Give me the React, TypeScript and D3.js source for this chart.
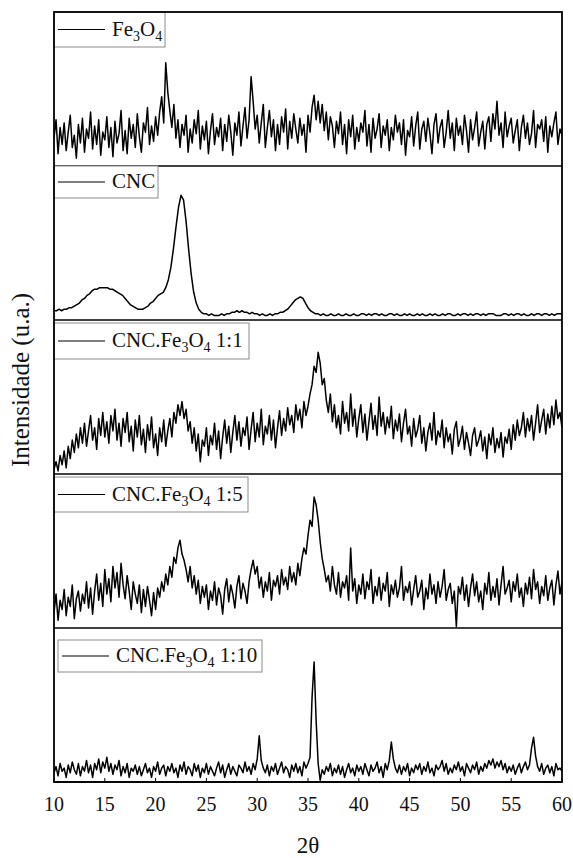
import React from 'react';
import * as d3 from 'd3';

// XRD patterns, 2θ from 10 to 60, intensities (0-100 per panel)
const fe3o4 = [
  18, 30, 8, 25, 14, 28, 10, 22, 33, 12, 20, 5, 27, 15, 31, 9, 24, 18, 35, 11,
  26, 14, 30, 7, 22, 17, 32, 12, 25, 6, 29, 15, 21, 36, 10, 23, 8, 31, 18, 27,
  12, 34, 19, 9, 28, 22, 38, 14, 26, 16, 32, 20, 35, 45, 28, 67, 48, 36, 25, 40,
  18, 30, 12, 27, 20, 33, 9, 24, 15, 30, 21, 36, 11, 26, 17, 29, 8, 23, 34, 14,
  25, 19, 31, 10, 27, 16, 33, 22, 7, 28, 20, 35, 13, 26, 38, 18, 30, 58, 42, 24,
  33, 15, 28, 40, 12, 25, 36, 19, 30, 10, 27, 14, 32, 22, 37, 11, 29, 18, 34, 24,
  15, 31, 20, 27, 9, 33, 22, 38, 46, 30, 42, 28, 40, 23, 35, 17, 32, 26, 12, 29,
  21, 35, 14, 27, 8, 30, 19, 33, 11, 25, 16, 28, 22, 36, 13, 27, 9, 31, 18, 24,
  34, 12, 26, 20, 30, 10, 25, 17, 33, 22, 28, 14, 30, 7, 23, 19, 32, 13, 26, 35,
  11, 24, 29, 16, 31, 21, 8, 27, 34, 15, 25, 30, 12, 22, 36, 18, 28, 10, 31, 20,
  26, 14, 33, 23, 9, 30, 17, 25, 35, 13, 22, 29, 11, 27, 32, 16, 34, 24, 42, 20,
  28, 12, 35, 19, 26, 31, 15, 23, 30, 10, 25, 33, 18, 28, 14, 21, 36, 12, 27, 24,
  30, 16, 32, 9, 26, 19, 28, 35, 14, 24, 20,
];

const cnc = [
  6, 6, 7, 6, 7, 7, 8, 8, 9, 10, 11, 13, 14, 16, 17, 19, 20, 20, 21, 21,
  21, 21, 20, 20, 19, 18, 17, 16, 14, 12, 10, 9, 8, 7, 7, 7, 8, 9, 11, 12,
  14, 16, 17, 18, 21, 26, 34, 46, 60, 73, 81, 78, 64, 46, 30, 18, 11, 7, 5, 4,
  4, 3, 4, 3, 3, 3, 4, 3, 4, 4, 5, 5, 6, 5, 6, 5, 5, 4, 5, 4,
  4, 3, 4, 3, 3, 4, 3, 4, 4, 5, 5, 6, 7, 9, 11, 13, 14, 15, 14, 11,
  8, 6, 5, 4, 4, 3, 4, 3, 3, 4, 3, 3, 4, 3, 3, 4, 3, 3, 4, 3,
  3, 4, 4, 3, 4, 3, 4, 4, 3, 4, 3, 3, 4, 4, 3, 4, 3, 3, 4, 3,
  4, 3, 3, 4, 3, 4, 3, 3, 4, 3, 4, 3, 3, 4, 3, 4, 4, 3, 3, 4,
  3, 4, 4, 3, 4, 3, 4, 4, 3, 4, 3, 4, 4, 4, 3, 3, 3, 4, 4, 3,
  4, 3, 4, 4, 3, 4, 3, 3, 4, 3, 4, 4, 3, 4, 4, 3, 4, 3, 4, 4,
  4,
];

const cncFe11 = [
  3, 8, 2, 12, 6, 15, 4, 18, 10, 22, 14, 26, 17, 30, 20, 33, 18, 28, 38, 22,
  30, 16, 36, 25, 40, 24, 34, 20, 38, 28, 42, 22, 33, 18, 36, 27, 40, 21, 31, 15,
  35, 24, 38, 19, 29, 14, 32, 22, 37, 17, 26, 12, 30, 21, 35, 18, 28, 36, 24, 40,
  33, 45, 38, 47, 36, 42, 28, 34, 20, 30, 15, 26, 8, 22, 18, 30, 12, 25, 19, 33,
  16, 28, 10, 24, 35, 20, 31, 14, 27, 38, 22, 34, 18, 30, 25, 37, 16, 29, 40, 21,
  33, 24, 42, 19, 31, 26, 38, 22, 35, 17, 30, 41, 25, 36, 28, 43, 32, 38, 27, 45,
  35, 42, 30, 47, 38, 44, 52, 58, 70, 66, 79, 72, 58, 62, 48, 40, 52, 34, 45, 30,
  38, 26, 47, 33, 40, 28, 52, 31, 42, 24, 36, 45, 27, 39, 22, 34, 46, 29, 38, 25,
  50, 31, 40, 26, 37, 30, 44, 23, 35, 28, 39, 21, 33, 42, 26, 31, 18, 36, 24, 29,
  38, 20, 30, 15, 27, 33, 22, 40, 19, 28, 24, 35, 17, 30, 21, 26, 13, 29, 34, 18,
  23, 31, 16, 27, 20, 12, 25, 30, 18, 22, 28, 15, 24, 10, 26, 19, 30, 14, 23, 17,
  27, 11, 24, 20, 29, 16, 32, 22, 35, 25, 30, 40, 24, 36, 28, 38, 22, 33, 45, 27,
  35, 42, 26, 39, 30, 44, 32, 48, 36, 40, 30,
];

const cncFe15 = [
  10, 22, 5, 18, 12, 25, 8, 20, 14, 28, 6, 19, 24, 11, 22, 16, 30, 13, 26, 9,
  24, 35, 18, 29, 14, 38, 22, 32, 17, 40, 26, 36, 20, 42, 28, 19, 34, 24, 12, 30,
  22, 16, 28, 10, 25, 14, 27, 18, 8, 23, 12, 26, 20, 30, 24, 35, 28, 40, 33, 46,
  42, 52, 57, 48, 44, 38, 30, 40, 26, 34, 22, 31, 16, 27, 20, 28, 12, 24, 18, 30,
  15, 26, 21, 9, 25, 32, 17, 28, 22, 13, 27, 34, 19, 29, 24, 16, 30, 38, 44, 35,
  40, 26, 33, 20, 30, 24, 36, 18, 31, 27, 34, 22, 38, 28, 33, 25, 40, 30, 36, 28,
  42, 34, 45, 52, 48, 60, 70, 66, 85, 80, 70, 56, 45, 38, 30, 34, 24, 40, 28, 22,
  36, 20, 30, 26, 34, 18, 52, 24, 32, 16, 28, 22, 35, 19, 30, 25, 38, 16, 27, 21,
  33, 18, 29, 24, 36, 14, 28, 22, 31, 20, 26, 40, 18, 27, 23, 30, 15, 25, 34, 20,
  24, 31, 12, 26, 19, 35, 22, 28, 16, 30, 20, 27, 38, 18, 25, 29, 16, 24, 1, 27,
  22, 33, 18, 28, 14, 26, 35, 21, 30, 17, 24, 12, 29, 22, 36, 18, 27, 20, 32, 15,
  28, 40, 22, 26, 31, 17, 30, 24, 35, 20, 26, 14, 29, 22, 33, 19, 38, 25, 30, 16,
  27, 21, 34, 18, 26, 31, 15, 28, 37, 22, 30,
];

const cncFe110 = [
  6, 10, 4, 12, 7, 9, 3, 11, 6, 13, 8, 5, 12, 4, 10, 7, 14, 6, 11, 3,
  12, 8, 15, 6, 13, 9, 16, 7, 12, 5, 11, 8, 14, 4, 10, 6, 12, 3, 9, 7,
  11, 5, 10, 4, 8, 12, 6, 9, 3, 10, 7, 13, 5, 9, 11, 4, 10, 7, 12, 6,
  9, 3, 11, 7, 13, 5, 10, 8, 4, 12, 7, 11, 3, 9, 6, 12, 5, 10, 7, 4,
  9, 13, 6, 11, 3, 8, 12, 5, 10, 7, 4, 11, 9, 6, 13, 7, 10, 5, 12, 8,
  15, 30, 14, 9, 6, 11, 4, 10, 7, 12, 5, 9, 13, 6, 10, 8, 3, 11, 7, 12,
  6, 10, 4, 13, 9, 12, 16, 55, 78, 40, 12, 1, 8, 5, 10, 7, 12, 4, 9, 6,
  11, 5, 10, 3, 8, 12, 6, 9, 4, 11, 7, 10, 5, 12, 8, 4, 11, 7, 9, 13,
  6, 10, 3, 12, 8, 14, 26, 15, 9, 6, 11, 5, 10, 7, 12, 4, 9, 6, 11, 8,
  12, 5, 10, 7, 13, 6, 9, 4, 11, 8, 10, 14, 7, 12, 5, 9, 6, 11, 8, 13,
  7, 10, 4, 12, 9, 6, 11, 8, 13, 5, 10, 7, 12, 9, 14, 11, 15, 9, 13, 10,
  14, 8, 12, 6, 10, 7, 11, 5, 9, 12, 6, 10, 13, 8, 11, 22, 29, 17, 10, 7,
  12, 5, 9, 11, 6, 10, 4, 12, 8, 9, 7,
];

const xTicks = [10, 15, 20, 25, 30, 35, 40, 45, 50, 55, 60];

// legend label pieces: [text, 'n' | 's'] — s is a subscript
const panels = [
  { data: fe3o4, parts: [['Fe', 'n'], ['3', 's'], ['O', 'n'], ['4', 's']], box: { dx: 0, dy: 0, w: 111, h: 35 } },
  { data: cnc, parts: [['CNC', 'n']], box: { dx: 0, dy: 0, w: 104, h: 32 } },
  { data: cncFe11, parts: [['CNC.Fe', 'n'], ['3', 's'], ['O', 'n'], ['4', 's'], [' 1:1', 'n']], box: { dx: 0, dy: 3, w: 195, h: 36 } },
  { data: cncFe15, parts: [['CNC.Fe', 'n'], ['3', 's'], ['O', 'n'], ['4', 's'], [' 1:5', 'n']], box: { dx: 0, dy: 3, w: 194, h: 35 } },
  { data: cncFe110, parts: [['CNC.Fe', 'n'], ['3', 's'], ['O', 'n'], ['4', 's'], [' 1:10', 'n']], box: { dx: 4, dy: 12, w: 204, h: 32 } },
];

const W = 573;
const H = 858;
const left = 54;
const right = 562;
const top = 12;
const panelH = 154;
const bottom = top + panelH * panels.length;
const font = 'Liberation Serif';

export default function App() {
  const x = d3.scaleLinear().domain([10, 60]).range([left, right]);

  return (
    <div style={{ position: 'absolute', left: 0, top: 0 }}>
      <svg width={W} height={H} viewBox={`0 0 ${W} ${H}`} style={{ display: 'block', background: '#fff' }}>
        <defs>
          {panels.map((p, i) => (
            <clipPath id={`clip${i}`} key={i}>
              <rect x={left} y={top + i * panelH} width={right - left} height={panelH} />
            </clipPath>
          ))}
        </defs>
        {panels.map((p, i) => {
          const y0 = top + i * panelH;
          const y = d3.scaleLinear().domain([0, 100]).range([y0 + panelH, y0]);
          const step = 50 / (p.data.length - 1);
          const line = d3.line<number>()
            .x((d, k) => x(10 + k * step))
            .y(d => y(d));
          const bx = left + p.box.dx;
          const by = y0 + p.box.dy;
          const cy = by + p.box.h / 2;
          return (
            <g key={i}>
              <path d={line(p.data) || ''} fill="none" stroke="#000" strokeWidth={1.5} strokeLinejoin="round" clipPath={`url(#clip${i})`} />
              <rect x={bx} y={by} width={p.box.w} height={p.box.h} fill="#fff" stroke="#8c8c8c" strokeWidth={1} />
              <line x1={bx + 4} x2={bx + 51} y1={cy} y2={cy} stroke="#000" strokeWidth={1.2} />
              <text x={bx + 58} y={cy + 6} fontFamily={font} fontSize={21} fill="#111">
                {p.parts.map(([t, k], j) => k === 's'
                  ? <tspan key={j} fontSize={14} dy={5}>{t}</tspan>
                  : <tspan key={j} fontSize={21} dy={j > 0 && p.parts[j - 1][1] === 's' ? -5 : 0}>{t}</tspan>)}
              </text>
              <line x1={left} x2={right} y1={y0 + panelH} y2={y0 + panelH} stroke="#000" strokeWidth={1.4} />
            </g>
          );
        })}
        <rect x={left} y={top} width={right - left} height={bottom - top} fill="none" stroke="#000" strokeWidth={1.8} />
        {xTicks.map(t => (
          <g key={t}>
            <line x1={x(t)} x2={x(t)} y1={bottom} y2={bottom - 4} stroke="#000" strokeWidth={1} />
            <text x={x(t)} y={811} textAnchor="middle" fontFamily={font} fontSize={20} fill="#111">{t}</text>
          </g>
        ))}
        <text x={x(35)} y={853} textAnchor="middle" fontFamily={font} fontSize={23} fill="#111">2θ</text>
        <text transform={`translate(29,380) rotate(-90)`} textAnchor="middle" fontFamily={font} fontSize={25} fill="#111">
          Intensidade (u.a.)
        </text>
      </svg>
    </div>
  );
}
